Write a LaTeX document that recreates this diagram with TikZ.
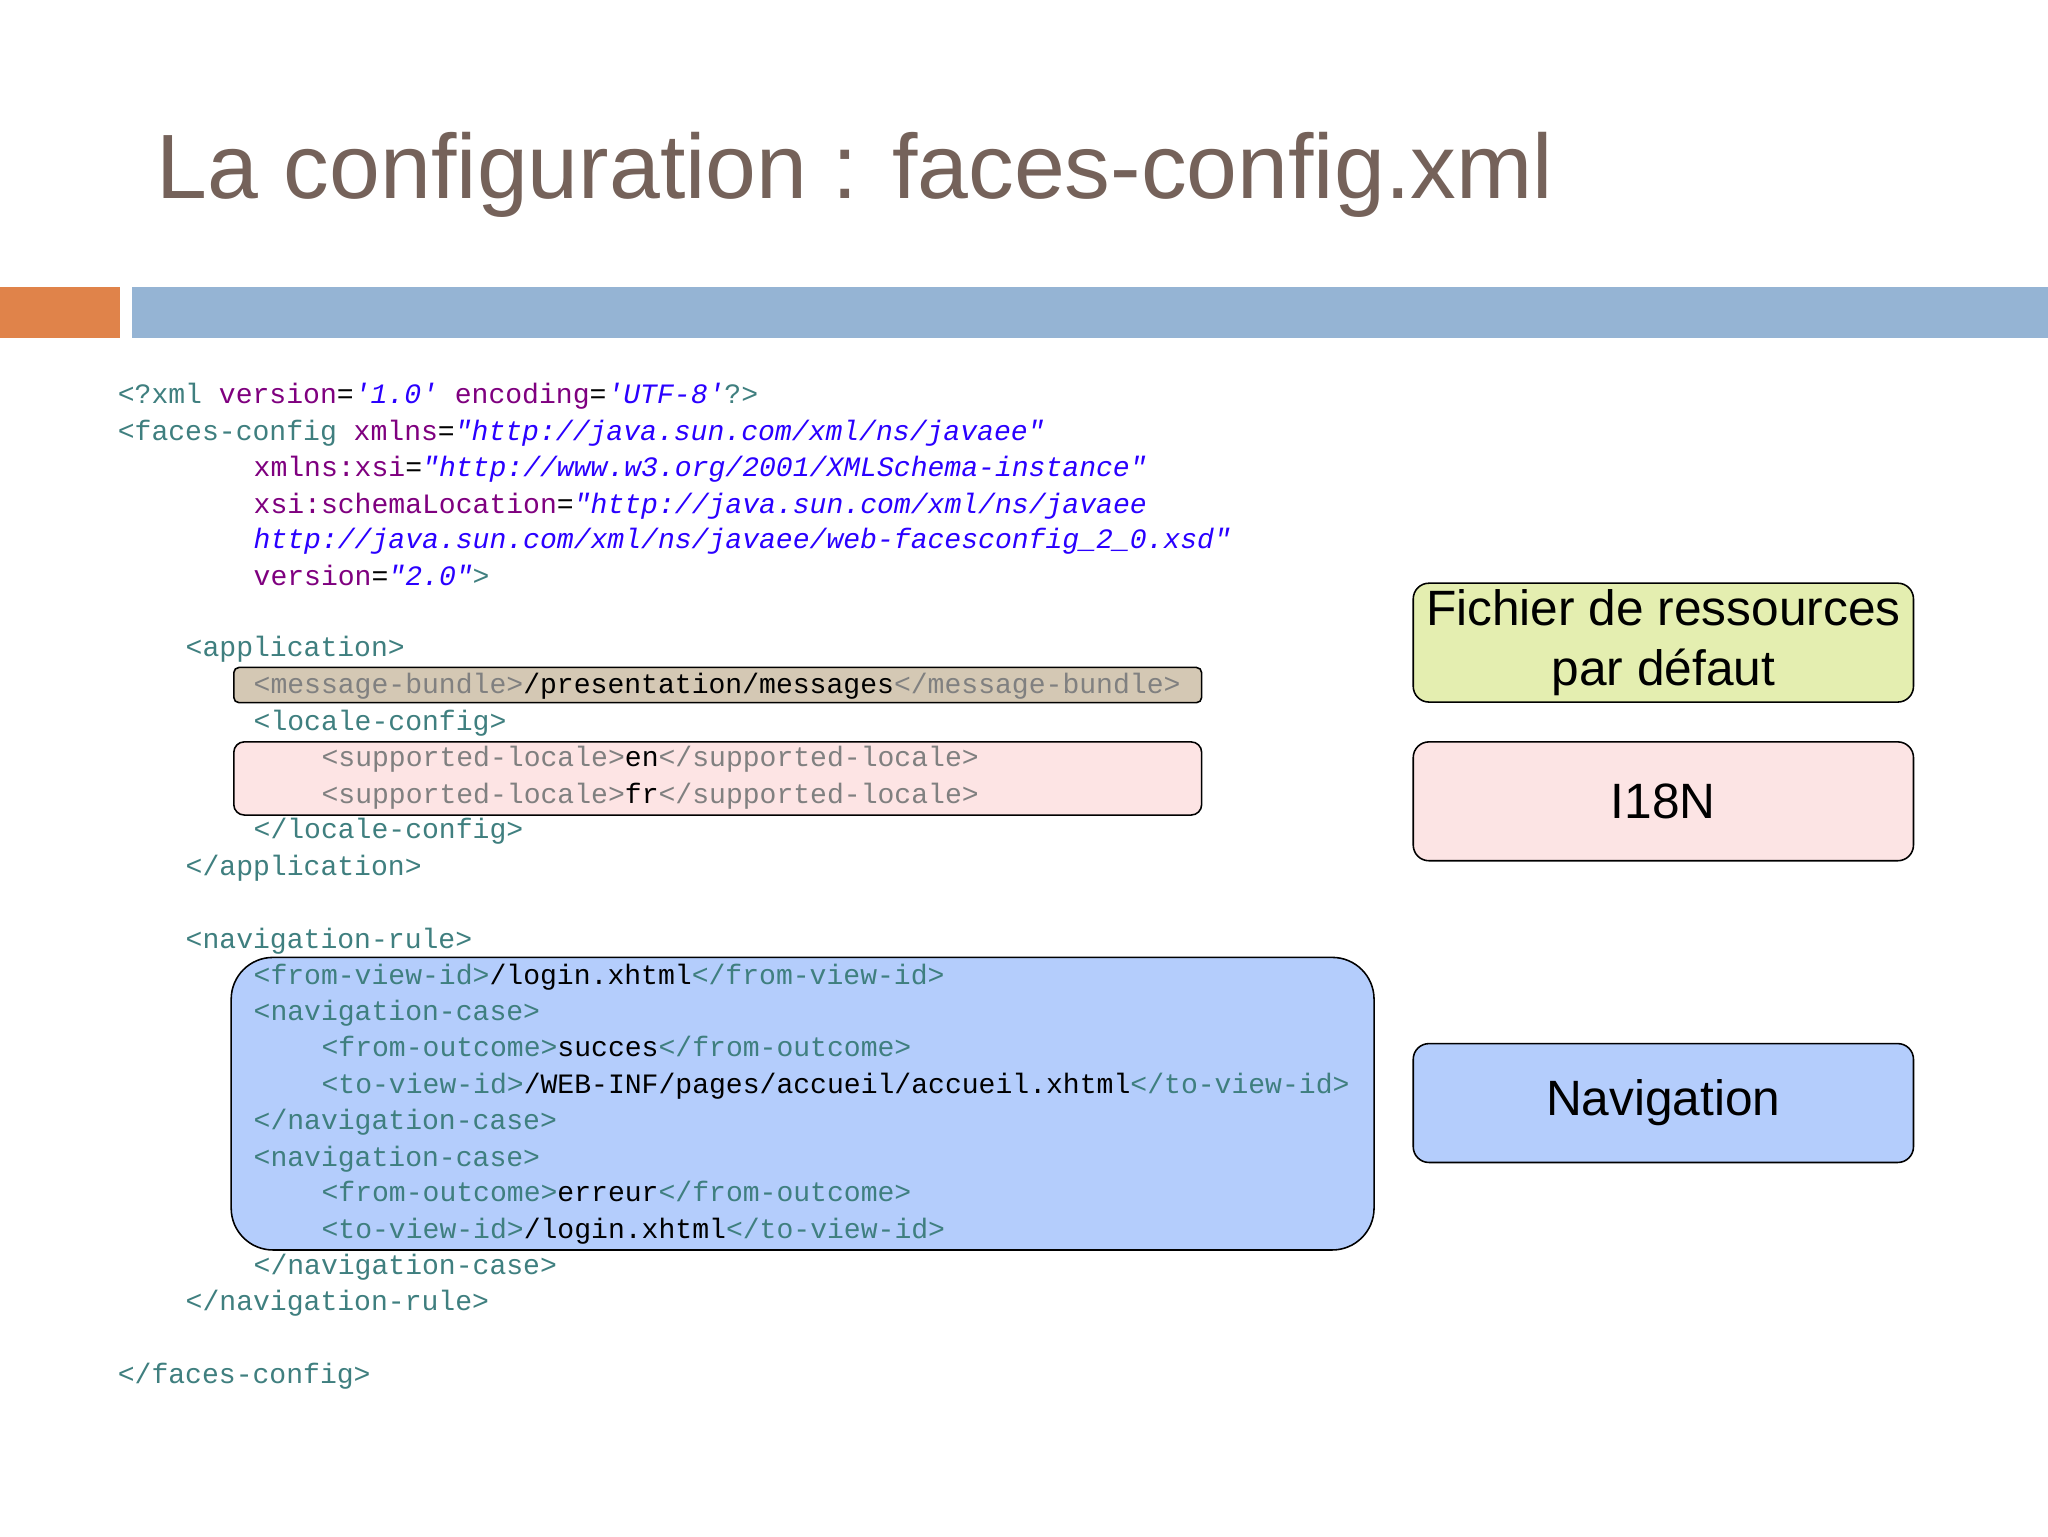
\documentclass[tikz,border=0pt]{standalone}
\usepackage{fontspec}
\setmainfont{Liberation Sans}
\newfontfamily\codef{Liberation Mono}
\definecolor{tagc}{HTML}{3F7F7F}
\definecolor{attc}{HTML}{7F007F}
\definecolor{valc}{HTML}{2A00FF}
\definecolor{graytag}{HTML}{808080}
\definecolor{titlec}{HTML}{75625A}
\newcommand{\tg}[1]{\textcolor{tagc}{#1}}
\newcommand{\gt}[1]{\textcolor{graytag}{#1}}
\newcommand{\at}[1]{\textcolor{attc}{#1}}
\newcommand{\vl}[1]{\textcolor{valc}{\itshape #1}}
\tikzset{
 code/.style={anchor=base west,inner sep=0pt,font=\codef\fontsize{21.5}{24}\selectfont},
 lbl/.style={draw=black,line width=1.2pt,rounded corners=12pt,minimum width=383pt,minimum height=91pt,align=center,font=\fontsize{38}{46}\selectfont,inner sep=0pt},
}
\begin{document}
\begin{tikzpicture}[x=1pt,y=-1pt]
\useasboundingbox (0,0) rectangle (1568,1176);
\fill[white] (0,0) rectangle (1568,1176);
\node[anchor=base west,inner sep=0pt,text=titlec,font=\fontsize{70}{80}\selectfont] (title) at (120,152) {La configuration : faces-config.xml};
\fill[fill={rgb,255:red,224;green,131;blue,74}] (0,220) rectangle (92,259);
\fill[fill={rgb,255:red,149;green,180;blue,212}] (101,220) rectangle (1568,259);
% highlight boxes
\filldraw[fill={rgb,255:red,212;green,200;blue,180},draw=black,line width=1.2pt,rounded corners=4pt] (179,511) rectangle (920,538);
\filldraw[fill={rgb,255:red,253;green,228;blue,228},draw=black,line width=1.2pt,rounded corners=8pt] (179,568) rectangle (920,624);
\filldraw[fill={rgb,255:red,180;green,205;blue,252},draw=black,line width=1.2pt,rounded corners=32pt] (177,733) rectangle (1052,957);
% code
\node[code] (l1) at (90,309) {\tg{<?xml} \at{version}=\vl{'1.0'} \at{encoding}=\vl{'UTF-8'}\tg{?>}};
\node[code] (l2) at (90,337) {\tg{<faces-config} \at{xmlns}=\vl{"http://java.sun.com/xml/ns/javaee"}};
\node[code] (l3) at (194,365) {\at{xmlns:xsi}=\vl{"http://www.w3.org/2001/XMLSchema-instance"}};
\node[code] (l4) at (194,393) {\at{xsi:schemaLocation}=\vl{"http://java.sun.com/xml/ns/javaee}};
\node[code] (l5) at (194,420) {\vl{http://java.sun.com/xml/ns/javaee/web-facesconfig\_2\_0.xsd"}};
\node[code] (l6) at (194,448) {\at{version}=\vl{"2.0"}\tg{>}};
\node[code] (l7) at (142,503) {\tg{<application>}};
\node[code] (l8) at (194,531) {\gt{<message-bundle>}/presentation/messages\gt{</message-bundle>}};
\node[code] (l9) at (194,559) {\tg{<locale-config>}};
\node[code] (l10) at (246,587) {\gt{<supported-locale>}en\gt{</supported-locale>}};
\node[code] (l11) at (246,615) {\gt{<supported-locale>}fr\gt{</supported-locale>}};
\node[code] (l12) at (194,642) {\tg{</locale-config>}};
\node[code] (l13) at (142,670) {\tg{</application>}};
\node[code] (l14) at (142,726) {\tg{<navigation-rule>}};
\node[code] (l15) at (194,754) {\tg{<from-view-id>}/login.xhtml\tg{</from-view-id>}};
\node[code] (l16) at (194,781) {\tg{<navigation-case>}};
\node[code] (l17) at (246,809) {\tg{<from-outcome>}succes\tg{</from-outcome>}};
\node[code] (l18) at (246,837) {\tg{<to-view-id>}/WEB-INF/pages/accueil/accueil.xhtml\tg{</to-view-id>}};
\node[code] (l19) at (194,865) {\tg{</navigation-case>}};
\node[code] (l20) at (194,893) {\tg{<navigation-case>}};
\node[code] (l21) at (246,920) {\tg{<from-outcome>}erreur\tg{</from-outcome>}};
\node[code] (l22) at (246,948) {\tg{<to-view-id>}/login.xhtml\tg{</to-view-id>}};
\node[code] (l23) at (194,976) {\tg{</navigation-case>}};
\node[code] (l24) at (142,1003) {\tg{</navigation-rule>}};
\node[code] (l25) at (90,1059) {\tg{</faces-config>}};
% right labels
\node[lbl,fill={rgb,255:red,228;green,238;blue,176}] (res) at (1273.5,492) {Fichier de ressources\\par défaut};
\node[lbl,fill={rgb,255:red,252;green,228;blue,228}] (i18n) at (1273.5,613.5) {I18N};
\node[lbl,fill={rgb,255:red,180;green,205;blue,252}] (nav) at (1273.5,844.5) {Navigation};
\end{tikzpicture}
\end{document}
